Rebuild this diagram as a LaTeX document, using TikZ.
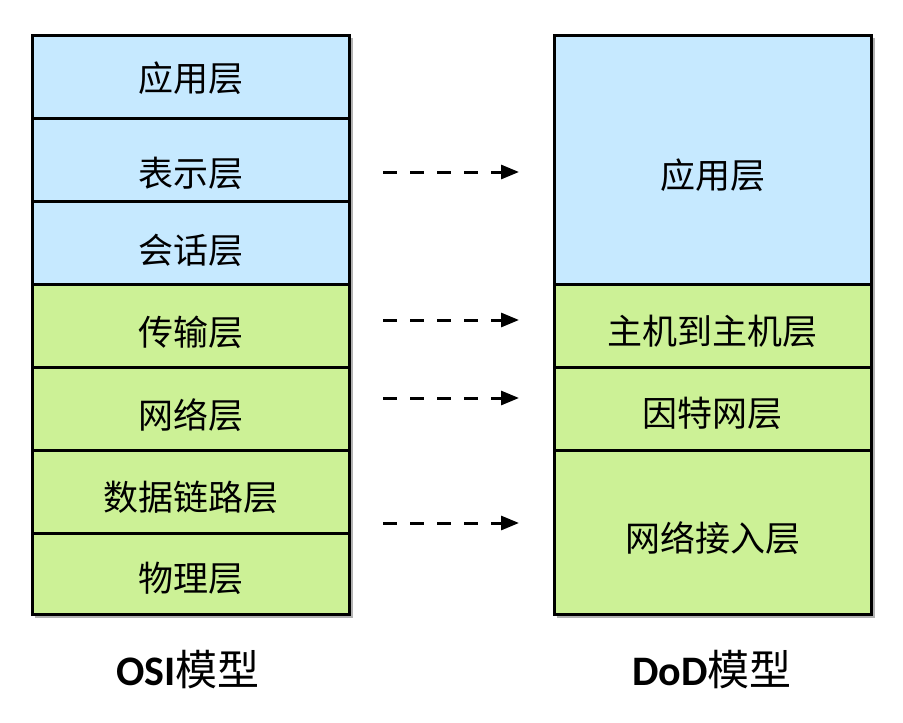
\documentclass[tikz,border=0pt]{standalone}
\usepackage{fontspec}
\setmainfont{Noto Sans CJK SC}
\newfontfamily\cjk{Noto Sans CJK SC}
\newfontfamily\latb{Carlito}
\usetikzlibrary{arrows.meta}
\definecolor{lblue}{RGB}{198,233,255}
\definecolor{lgreen}{RGB}{204,241,150}
\tikzset{
  layer/.style={draw=black, line width=2.6pt, minimum width=317pt, inner sep=0pt, anchor=north west},
  bluel/.style={layer, fill=lblue},
  greenl/.style={layer, fill=lgreen},
  lbl/.style={inner sep=0pt, font=\cjk\fontsize{35}{40}\selectfont},
  maparrow/.style={draw=black, line width=3pt, dash pattern=on 14pt off 13pt, -{Triangle[length=18pt,width=14pt]}},
  title/.style={font=\fontsize{42}{48}\selectfont}
}
\begin{document}
\begin{tikzpicture}[x=1pt,y=-1pt]
\useasboundingbox (0,0) rectangle (903,723);
% shadows
\fill[black!30] (35,38) rectangle (353,618);
\fill[black!30] (557,38) rectangle (875,618);
% OSI
\node[bluel, minimum height=83pt] (o7) at (31,34) {};
\node[bluel, minimum height=83pt] (o6) at (31,117) {};
\node[bluel, minimum height=83pt] (o5) at (31,200) {};
\node[greenl, minimum height=83pt] (o4) at (31,283) {};
\node[greenl, minimum height=83pt] (o3) at (31,366) {};
\node[greenl, minimum height=83pt] (o2) at (31,449) {};
\node[greenl, minimum height=81pt] (o1) at (31,532) {};
\node[lbl] (l7) at ([yshift=-1pt]o7.center) {应用层};
\node[lbl] (l6) at ([yshift=-14pt]o6.center) {表示层};
\node[lbl] (l5) at ([yshift=-8pt]o5.center) {会话层};
\node[lbl] (l4) at ([yshift=-7pt]o4.center) {传输层};
\node[lbl] (l3) at ([yshift=-6pt]o3.center) {网络层};
\node[lbl] (l2) at ([yshift=-5pt]o2.center) {数据链路层};
\node[lbl] (l1) at ([yshift=-5pt]o1.center) {物理层};
% DoD
\node[bluel, minimum height=249pt] (d4) at (553,34) {};
\node[greenl, minimum height=83pt] (d3) at (553,283) {};
\node[greenl, minimum height=83pt] (d2) at (553,366) {};
\node[greenl, minimum height=164pt] (d1) at (553,449) {};
\node[lbl] (m4) at ([yshift=-15pt]d4.center) {应用层};
\node[lbl] (m3) at ([yshift=-6pt]d3.center) {主机到主机层};
\node[lbl] (m2) at ([yshift=-5pt]d2.center) {因特网层};
\node[lbl] (m1) at ([yshift=-6pt]d1.center) {网络接入层};
% arrows
\coordinate (a1s) at (383,172); \coordinate (a1e) at (519,172);
\coordinate (a2s) at (383,320); \coordinate (a2e) at (519,320);
\coordinate (a3s) at (383,398); \coordinate (a3e) at (519,398);
\coordinate (a4s) at (383,523); \coordinate (a4e) at (519,523);
\draw[maparrow] (a1s) -- (a1e);
\draw[maparrow] (a2s) -- (a2e);
\draw[maparrow] (a3s) -- (a3e);
\draw[maparrow] (a4s) -- (a4e);
% titles
\node[title] (t1) at (188,670) {{\latb\bfseries OSI}{\cjk 模型}};
\node[title] (t2) at (712,670) {{\latb\bfseries DoD}{\cjk 模型}};
\end{tikzpicture}
\end{document}
